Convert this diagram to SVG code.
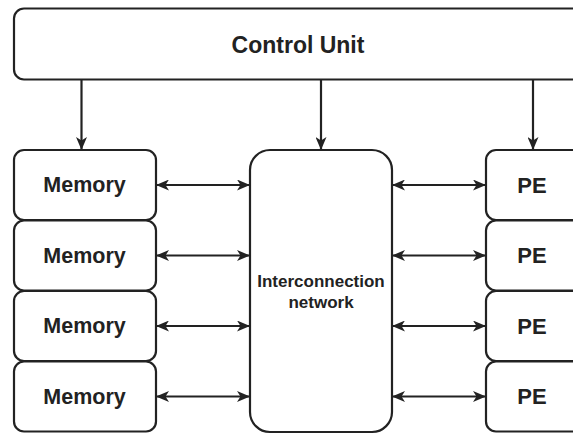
<svg xmlns="http://www.w3.org/2000/svg" width="573" height="434" viewBox="0 0 573 434">
  <style>
    .box { fill: #ffffff; stroke: #222222; stroke-width: 2.2; }
    .lbl { font-family: "Liberation Sans", Arial, sans-serif; font-weight: bold; fill: #222222; text-anchor: middle; dominant-baseline: central; }
    .wire { fill: none; stroke: #222222; stroke-width: 2.2; }
  </style>
  <defs>
    <marker id="arrow" viewBox="0 0 13 11" refX="12" refY="5.5" markerWidth="13" markerHeight="11" markerUnits="userSpaceOnUse" orient="auto-start-reverse">
      <path d="M0,0 L13,5.5 L0,11 L3.5,5.5 z" fill="#222222"/>
    </marker>
  </defs>
  <rect width="573" height="434" fill="#ffffff"/>

  <g id="control-unit">
    <rect class="box" x="14" y="8.5" width="580" height="71" rx="10"/>
    <text class="lbl" x="298" y="45" font-size="23">Control Unit</text>
  </g>

  <g id="memory-1">
    <rect class="box" x="14" y="150" width="142" height="70" rx="10"/>
    <text class="lbl" x="84.5" y="185" font-size="21.5">Memory</text>
  </g>
  <g id="memory-2">
    <rect class="box" x="14" y="220.5" width="142" height="70" rx="10"/>
    <text class="lbl" x="84.5" y="255.5" font-size="21.5">Memory</text>
  </g>
  <g id="memory-3">
    <rect class="box" x="14" y="291" width="142" height="70" rx="10"/>
    <text class="lbl" x="84.5" y="326" font-size="21.5">Memory</text>
  </g>
  <g id="memory-4">
    <rect class="box" x="14" y="361.5" width="142" height="70" rx="10"/>
    <text class="lbl" x="84.5" y="396.5" font-size="21.5">Memory</text>
  </g>

  <g id="interconnection-network">
    <rect class="box" x="250" y="150" width="142" height="282" rx="20"/>
    <text class="lbl" x="321" y="281" font-size="17">Interconnection</text>
    <text class="lbl" x="321" y="302" font-size="17">network</text>
  </g>

  <g id="pe-1">
    <rect class="box" x="486" y="150" width="120" height="70" rx="10"/>
    <text class="lbl" x="532" y="185" font-size="22">PE</text>
  </g>
  <g id="pe-2">
    <rect class="box" x="486" y="220.5" width="120" height="70" rx="10"/>
    <text class="lbl" x="532" y="255.5" font-size="22">PE</text>
  </g>
  <g id="pe-3">
    <rect class="box" x="486" y="291" width="120" height="70" rx="10"/>
    <text class="lbl" x="532" y="326" font-size="22">PE</text>
  </g>
  <g id="pe-4">
    <rect class="box" x="486" y="361.5" width="120" height="70" rx="10"/>
    <text class="lbl" x="532" y="396.5" font-size="22">PE</text>
  </g>

  <g id="connectors">
    <!-- control unit to the three columns -->
    <line class="wire" x1="81.5" y1="79.5" x2="81.5" y2="149" marker-end="url(#arrow)"/>
    <line class="wire" x1="321" y1="79.5" x2="321" y2="149" marker-end="url(#arrow)"/>
    <line class="wire" x1="533" y1="79.5" x2="533" y2="149" marker-end="url(#arrow)"/>
    <!-- memory to network, both ways -->
    <line class="wire" x1="157" y1="185" x2="249" y2="185" marker-start="url(#arrow)" marker-end="url(#arrow)"/>
    <line class="wire" x1="157" y1="255.5" x2="249" y2="255.5" marker-start="url(#arrow)" marker-end="url(#arrow)"/>
    <line class="wire" x1="157" y1="326" x2="249" y2="326" marker-start="url(#arrow)" marker-end="url(#arrow)"/>
    <line class="wire" x1="157" y1="396.5" x2="249" y2="396.5" marker-start="url(#arrow)" marker-end="url(#arrow)"/>
    <!-- network to processing elements, both ways -->
    <line class="wire" x1="393" y1="185" x2="485" y2="185" marker-start="url(#arrow)" marker-end="url(#arrow)"/>
    <line class="wire" x1="393" y1="255.5" x2="485" y2="255.5" marker-start="url(#arrow)" marker-end="url(#arrow)"/>
    <line class="wire" x1="393" y1="326" x2="485" y2="326" marker-start="url(#arrow)" marker-end="url(#arrow)"/>
    <line class="wire" x1="393" y1="396.5" x2="485" y2="396.5" marker-start="url(#arrow)" marker-end="url(#arrow)"/>
  </g>
</svg>
